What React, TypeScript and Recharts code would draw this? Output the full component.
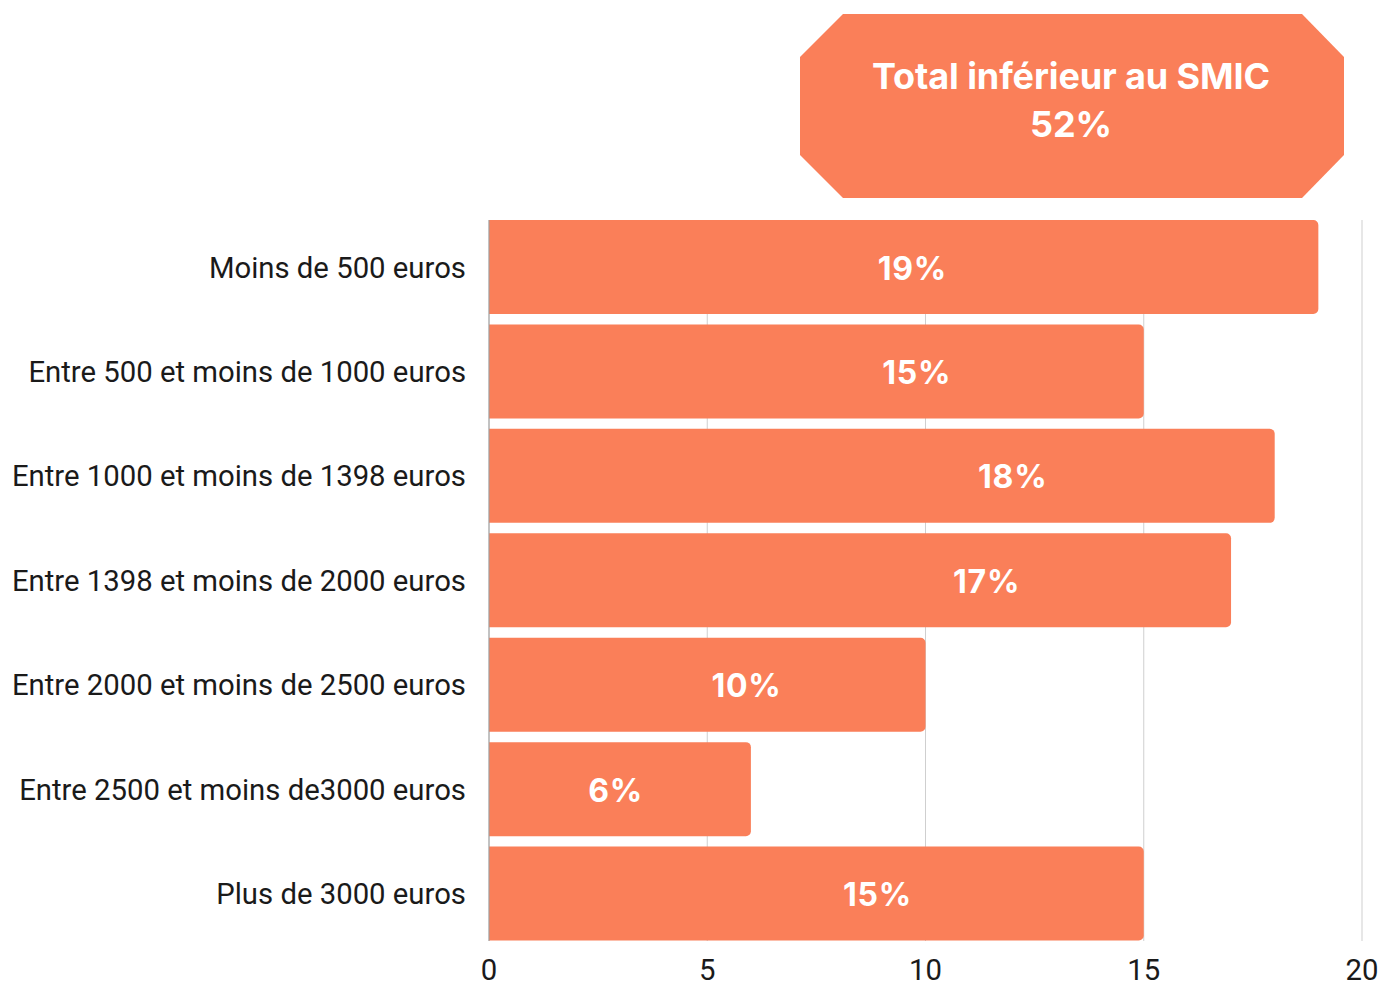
import { Bar, BarChart, CartesianGrid, LabelList, XAxis, YAxis } from "recharts"

const CATEGORIES = [
  "Moins de 500 euros",
  "Entre 500 et moins de 1000 euros",
  "Entre 1000 et moins de 1398 euros",
  "Entre 1398 et moins de 2000 euros",
  "Entre 2000 et moins de 2500 euros",
  "Entre 2500 et moins de3000 euros",
  "Plus de 3000 euros",
]
const SHARES = [19, 15, 18, 17, 10, 6, 15]
// where each value label sits along its bar, in axis units
const LABEL_AT = [9.7, 9.8, 12.0, 11.4, 5.9, 2.9, 8.9]
const X_TICKS = [0, 5, 10, 15, 20]
const TOTAL_LABEL = "Total inférieur au SMIC"
const TOTAL_VALUE = 52

const ORANGE = "#fa7f59"
const W = 1381
const H = 983

const data = CATEGORIES.map((name, i) => ({ name, share: SHARES[i] }))

function ValueLabel(props: any) {
  const { x, y, width, height, index } = props
  const v = SHARES[index]
  const cx = x + width * (LABEL_AT[index] / v)
  return (
    <text
      x={cx}
      y={y + height / 2 + 1}
      textAnchor="middle"
      dominantBaseline="central"
      fill="#fff"
      fontFamily="Inter, sans-serif"
      fontWeight={700}
      fontSize={32}
      letterSpacing={0.8}
    >
      {v}%
    </text>
  )
}

function TotalBadge() {
  const pts = "800,57 843,14 1302,14 1344,57 1344,155 1302,198 843,198 800,155"
  const textStyle = {
    textAnchor: "middle" as const,
    dominantBaseline: "central" as const,
    fill: "#fff",
    fontFamily: "Inter, sans-serif",
    fontWeight: 700,
    fontSize: 36,
    letterSpacing: -0.1,
  }
  return (
    <svg width={W} height={210} style={{ position: "absolute", left: 0, top: 0 }}>
      <polygon points={pts} fill={ORANGE} />
      <text x={1071} y={76} {...textStyle}>
        {TOTAL_LABEL}
      </text>
      <text x={1071} y={124} {...textStyle}>
        {TOTAL_VALUE}%
      </text>
    </svg>
  )
}

const tickStyle = { fontFamily: "Roboto, sans-serif", fontSize: 29.3, fill: "#1a1a1a" }

export default function App() {
  // pinned to the window corner so the body margin can't push it into scrollbars
  return (
    <div
      style={{ position: "fixed", left: 0, top: 0, width: W, height: H, overflow: "hidden", background: "#fff" }}
    >
      <BarChart
        width={W}
        height={H}
        data={data}
        layout="vertical"
        margin={{ top: 220, right: 19, bottom: 0, left: 0 }}
      >
        <CartesianGrid horizontal={false} stroke="#cfcfcf" />
        <XAxis
          type="number"
          domain={[0, 20]}
          ticks={X_TICKS}
          height={42}
          axisLine={false}
          tickLine={false}
          tickMargin={12}
          tick={tickStyle}
        />
        <YAxis
          type="category"
          dataKey="name"
          width={489}
          axisLine={{ stroke: "#9e9e9e" }}
          tickLine={false}
          tickMargin={17}
          padding={{ top: -5, bottom: -5 }}
          tick={tickStyle}
        />
        <Bar dataKey="share" fill={ORANGE} barSize={94} radius={[0, 5, 5, 0]} isAnimationActive={false}>
          <LabelList dataKey="share" content={ValueLabel} />
        </Bar>
      </BarChart>
      <TotalBadge />
    </div>
  )
}
